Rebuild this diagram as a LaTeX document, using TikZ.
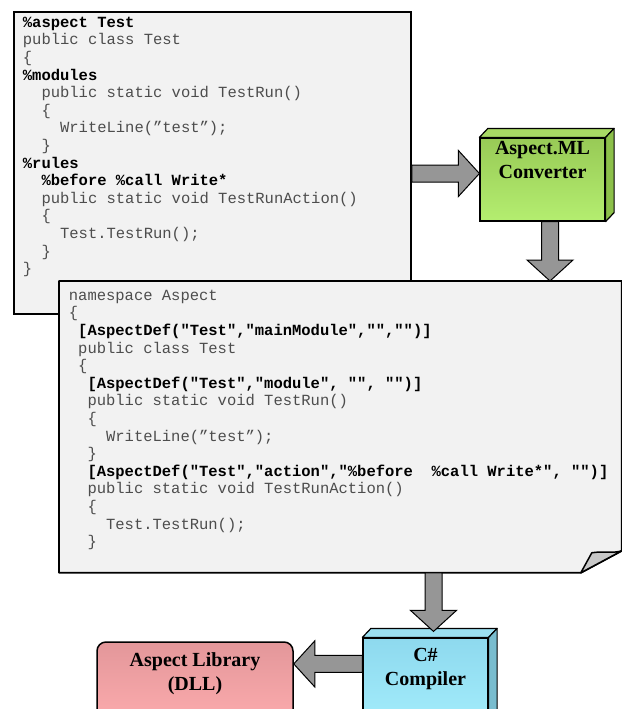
\documentclass[tikz,border=0pt]{standalone}
\usepackage{fontspec}
\setmainfont{Liberation Serif}
\setmonofont{Liberation Mono}
\usetikzlibrary{positioning, calc}

\definecolor{codebg}{HTML}{F2F2F2}
\definecolor{codetxt}{HTML}{4D4D4D}
\definecolor{arrgray}{HTML}{969696}
\definecolor{foldgray}{HTML}{C8C8C8}
\definecolor{mlfront}{HTML}{98CA56}
\definecolor{mlfrontb}{HTML}{B4EE70}
\definecolor{mltop}{HTML}{A8D965}
\definecolor{mlside}{HTML}{8CC04A}
\definecolor{csfront}{HTML}{8ED9EE}
\definecolor{csfrontb}{HTML}{A2ECFB}
\definecolor{cstop}{HTML}{9BE0F1}
\definecolor{csside}{HTML}{79BDCF}
\definecolor{libtop}{HTML}{E3979A}
\definecolor{libbot}{HTML}{FCABAD}

\newcommand\kw[1]{{\color{black}\bfseries #1}}
\newcommand\ind[1]{\hspace*{#1\dimexpr0.6em\relax}}
\newcommand\codefont{\fontsize{15.5}{17.6}\selectfont\ttfamily}

% top and right face of a box
\newcommand\cubefaces[3]{%
    \filldraw[fill=#2, line width=1.2pt, line join=round]
        (#1.north west) -- ++(8.5,-9) -- ([shift={(8.5,-9)}]#1.north east) -- (#1.north east) -- cycle;
    \filldraw[fill=#3, line width=1.2pt, line join=round]
        (#1.north east) -- ++(8.5,-9) -- ([shift={(8.5,-9)}]#1.south east) -- (#1.south east) -- cycle;
}

% block arrow from #1 to #2
\newcommand\blockarrow[2]{%
    \coordinate (h) at ($(#2)!21pt!(#1)$);
    \filldraw[blockarr]
        ($(#1)!8.5pt!90:(#2)$) -- ($(h)!8.5pt!90:(#2)$) -- ($(h)!23pt!90:(#2)$) -- (#2)
        -- ($(h)!23pt!-90:(#2)$) -- ($(h)!8.5pt!-90:(#2)$) -- ($(#1)!8.5pt!-90:(#2)$) -- cycle;
}

\begin{document}
\begin{tikzpicture}[
                x=1pt, y=-1pt,
                codebox/.style={
                    draw,
                    line width=1.8pt,
                    fill=codebg,
                    text=codetxt,
                    anchor=north west,
                    inner xsep=9pt,
                    inner ysep=5pt
                },
                cube/.style={
                    draw,
                    line width=1.2pt,
                    inner sep=0,
                    minimum width=125pt
                },
                lbl/.style={
                    font=\fontsize{20}{24}\selectfont\bfseries,
                    align=center,
                    inner sep=0,
                    text=black
                },
                blockarr/.style={
                    fill=arrgray,
                    draw,
                    line width=1pt
                }
            ]
            \useasboundingbox (0,0) rectangle (621,709);

            % Aspect.ML source
            \node[codebox] (code1) at (13,11) {\parbox[c][292pt][t]{379pt}{\codefont\raggedright
                \kw{\%aspect Test}\\
                public class Test\\
                \{\\
                \kw{\%modules}\\
                \ind{2}public static void TestRun()\\
                \ind{2}\{\\
                \ind{4}WriteLine(”test”);\\
                \ind{2}\}\\
                \kw{\%rules}\\
                \ind{2}\kw{\%before \%call Write*}\\
                \ind{2}public static void TestRunAction()\\
                \ind{2}\{\\
                \ind{4}Test.TestRun();\\
                \ind{2}\}\\
                \}}};

            % generated C# code
            \node[codebox, draw=none, inner ysep=8pt] (code2) at (59,281) {\parbox[c][274pt][t]{543pt}{\codefont\raggedright
                namespace Aspect\\
                \{\\
                \ind{1}\kw{[AspectDef("Test","mainModule","","")]}\\
                \ind{1}public class Test\\
                \ind{1}\{\\
                \ind{2}\kw{[AspectDef("Test","module", "", "")]}\\
                \ind{2}public static void TestRun()\\
                \ind{2}\{\\
                \ind{4}WriteLine(”test”);\\
                \ind{2}\}\\
                \ind{2}\kw{[AspectDef("Test","action","\%before\ \ \%call Write*", "")]}\\
                \ind{2}public static void TestRunAction()\\
                \ind{2}\{\\
                \ind{4}Test.TestRun();\\
                \ind{2}\}}};
            \fill[white] ([shift={(-41,1)}]code2.south east) -- ([shift={(1,1)}]code2.south east)
                -- ([shift={(1,-22)}]code2.south east) -- cycle;
            \draw[line width=1.8pt, line join=round] (code2.north west) -- (code2.north east)
                -- ([yshift=22pt]code2.south east) -- ([xshift=-41pt]code2.south east)
                -- (code2.south west) -- cycle;
            \filldraw[fill=foldgray, line width=1.5pt, line join=round]
                ([xshift=-41pt]code2.south east) -- ([yshift=22pt]code2.south east)
                .. controls +(-10,3) and +(12,-2) .. ([shift={(-30,-20)}]code2.south east) -- cycle;

            % converter
            \node[cube, minimum height=83pt, top color=mlfront, bottom color=mlfrontb] (conv) at (542.5,179.5) {};
            \cubefaces{conv}{mltop}{mlside}
            \node[lbl, below=4pt of conv.north] (convlbl) {Aspect.ML\\Converter};

            % compiler
            \node[cube, minimum height=84pt, top color=csfront, bottom color=csfrontb] (comp) at (425.5,680) {};
            \cubefaces{comp}{cstop}{csside}
            \node[lbl, below=11pt of comp.north] (complbl) {C\#\\Compiler};

            % library
            \node[draw, line width=1.5pt, rounded corners=9pt, inner sep=0,
                  minimum width=196pt, minimum height=80pt,
                  top color=libtop, bottom color=libbot] (lib) at (195,682) {};
            \node[lbl, below=11pt of lib.north] (liblbl) {Aspect Library\\(DLL)};

            % arrows
            \coordinate (a1e) at ([yshift=6pt]conv.west);
            \coordinate (a1s) at (code1.east |- a1e);
            \coordinate (a2s) at ([xshift=7.5pt]conv.south);
            \coordinate (a2e) at (a2s |- code2.north);
            \coordinate (a3e) at ([xshift=8pt, yshift=6pt]comp.north);
            \coordinate (a3s) at (a3e |- code2.south);
            \coordinate (a4s) at ([yshift=-26.5pt]comp.north west);
            \coordinate (a4e) at (lib.east |- a4s);
            \blockarrow{a1s}{a1e}
            \blockarrow{a2s}{a2e}
            \blockarrow{a3s}{a3e}
            \blockarrow{a4s}{a4e}
            \end{tikzpicture}
\end{document}
